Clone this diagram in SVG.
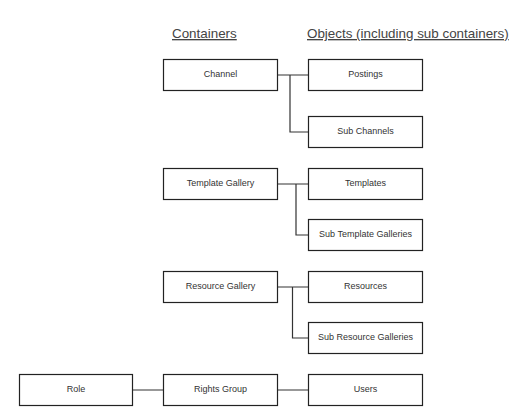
<svg xmlns="http://www.w3.org/2000/svg" width="528" height="419" viewBox="0 0 528 419">
<style>
.box rect{fill:#fff;stroke:#222;stroke-width:1.2}
.box text{font-family:"Liberation Sans",Arial,sans-serif;font-size:9px;fill:#333;text-anchor:middle}
.hdr{font-family:"Liberation Sans",Arial,sans-serif;font-size:13.4px;fill:#444;text-decoration:underline}
#connectors path{fill:none;stroke:#333;stroke-width:1.2}
</style>
<rect width="528" height="419" fill="#fff"/>
<text class="hdr" x="172" y="38">Containers</text>
<text class="hdr" x="307" y="38">Objects (including sub containers)</text>
<g id="connectors">
<path d="M277.5 75H308.5M290 75V132H308.5"/>
<path d="M277.5 184H308.5M296 184V235H308.5"/>
<path d="M277.5 287H308.5M292.5 287V338H308.5"/>
<path d="M132.5 390H163.5M277.5 390H308.5"/>
</g>
<g id="channel" class="box"><rect x="163.5" y="59.5" width="114" height="31"/><text x="220.5" y="77">Channel</text></g>
<g id="postings" class="box"><rect x="308.5" y="59.5" width="114" height="31"/><text x="365.5" y="77">Postings</text></g>
<g id="sub-channels" class="box"><rect x="308.5" y="116.5" width="114" height="31"/><text x="365.5" y="134">Sub Channels</text></g>
<g id="template-gallery" class="box"><rect x="163.5" y="168.5" width="114" height="31"/><text x="220.5" y="186">Template Gallery</text></g>
<g id="templates" class="box"><rect x="308.5" y="168.5" width="114" height="31"/><text x="365.5" y="186">Templates</text></g>
<g id="sub-template-galleries" class="box"><rect x="308.5" y="219.5" width="114" height="31"/><text x="365.5" y="237">Sub Template Galleries</text></g>
<g id="resource-gallery" class="box"><rect x="163.5" y="271.5" width="114" height="31"/><text x="220.5" y="289">Resource Gallery</text></g>
<g id="resources" class="box"><rect x="308.5" y="271.5" width="114" height="31"/><text x="365.5" y="289">Resources</text></g>
<g id="sub-resource-galleries" class="box"><rect x="308.5" y="322.5" width="114" height="31"/><text x="365.5" y="340">Sub Resource Galleries</text></g>
<g id="role" class="box"><rect x="19.5" y="374.5" width="113" height="31"/><text x="76" y="392">Role</text></g>
<g id="rights-group" class="box"><rect x="163.5" y="374.5" width="114" height="31"/><text x="220.5" y="392">Rights Group</text></g>
<g id="users" class="box"><rect x="308.5" y="374.5" width="114" height="31"/><text x="365.5" y="392">Users</text></g>
</svg>
